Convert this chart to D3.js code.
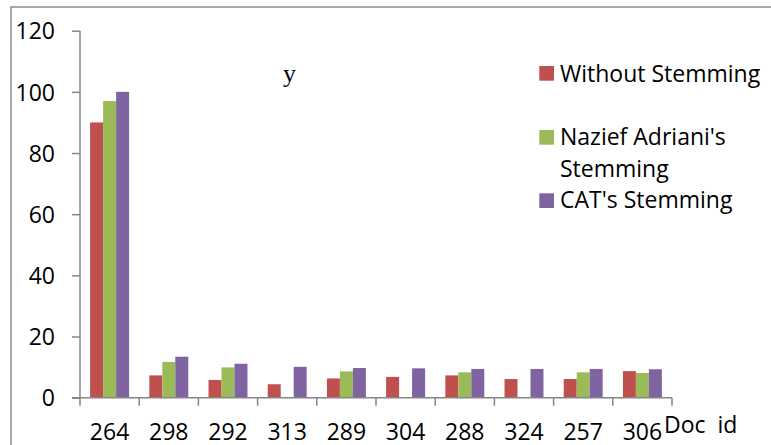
<!DOCTYPE html>
<html>
<head>
<meta charset="utf-8">
<script src="https://cdn.jsdelivr.net/npm/d3@7"></script>
<style>
  html, body { margin: 0; padding: 0; background: #fff; overflow: hidden; }
  text { font-family: "Open Sans", "Noto Sans", sans-serif; fill: #000; }
</style>
</head>
<body>
<script>
var docIds = ["264", "298", "292", "313", "289", "304", "288", "324", "257", "306"];
var seriesNames = ["Without Stemming", "Nazief Adriani's Stemming", "CAT's Stemming"];
var withoutStemming = [90, 7.3, 5.8, 4.4, 6.3, 6.8, 7.3, 6.1, 6.1, 8.7];
var naziefStemming = [97, 11.7, 9.9, 0, 8.6, 0, 8.3, 0, 8.3, 8.1];
var catStemming = [100, 13.4, 11.1, 10.1, 9.7, 9.6, 9.4, 9.4, 9.4, 9.3];
var yTicks = [0, 20, 40, 60, 80, 100, 120];
var colors = ["#C0504D", "#9BBB59", "#8064A2"];

var width = 771, height = 445;
var values = [withoutStemming, naziefStemming, catStemming];

var svg = d3.select("body").append("svg")
    .attr("width", width)
    .attr("height", height);

// outer frame (runs off the right and bottom edges)
svg.append("rect")
    .attr("x", 11).attr("y", 7)
    .attr("width", 800).attr("height", 500)
    .attr("fill", "none")
    .attr("stroke", "#8c8c8c")
    .attr("stroke-width", 1.5);

var x0 = d3.scaleBand().domain(docIds).range([80, 672]);
var x1 = d3.scaleBand().domain(d3.range(3)).range([0, x0.bandwidth()])
    .paddingInner(0).paddingOuter(0.78);
var y = d3.scaleLinear().domain([0, 120]).range([397.7, 30.7]);

// bars
var groups = svg.append("g").selectAll("g")
    .data(docIds)
    .enter().append("g")
    .attr("transform", function (d) { return "translate(" + x0(d) + ",0)"; });

groups.selectAll("rect")
    .data(function (d, i) {
        return values.map(function (s, k) { return { k: k, v: s[i] }; });
    })
    .enter().append("rect")
    .filter(function (d) { return d.v > 0; })
    .attr("x", function (d) { return x1(d.k); })
    .attr("width", x1.bandwidth())
    .attr("y", function (d) { return y(d.v); })
    .attr("height", function (d) { return y(0) - y(d.v); })
    .attr("fill", function (d) { return colors[d.k]; });

// y axis
var yAxis = svg.append("g")
    .attr("transform", "translate(80,0)")
    .call(d3.axisLeft(y).tickValues(yTicks).tickSize(8).tickPadding(17));
yAxis.selectAll("line, path").attr("stroke", "#868686").attr("stroke-width", 1.5);
yAxis.select(".domain").attr("d", "M0," + y(120) + "V" + y(0));
yAxis.selectAll("text")
    .style("font-family", "'Open Sans', sans-serif")
    .style("font-size", "23px")
    .attr("dy", "0.36em");

// x axis with ticks at category boundaries
var xAxis = svg.append("g").attr("transform", "translate(0," + y(0) + ")");
xAxis.append("path")
    .attr("d", "M72,0H672")
    .attr("stroke", "#868686").attr("stroke-width", 1.5);
xAxis.selectAll("line")
    .data(docIds.concat(["end"]))
    .enter().append("line")
    .attr("x1", function (d, i) { return i < docIds.length ? x0(d) : x0.range()[1]; })
    .attr("x2", function (d, i) { return i < docIds.length ? x0(d) : x0.range()[1]; })
    .attr("y1", 0).attr("y2", 8)
    .attr("stroke", "#868686").attr("stroke-width", 1.5);
xAxis.selectAll("text")
    .data(docIds)
    .enter().append("text")
    .attr("x", function (d) { return x0(d) + x0.bandwidth() / 2; })
    .attr("y", 42.5)
    .attr("text-anchor", "middle")
    .style("font-size", "23px")
    .text(function (d) { return d; });

// axis titles
svg.append("text")
    .attr("x", 283).attr("y", 82)
    .style("font-family", "'Liberation Serif', 'Times New Roman', serif")
    .style("font-size", "26px")
    .text("y");

svg.append("text")
    .attr("x", 664).attr("y", 432.5)
    .style("font-size", "23px")
    .style("white-space", "pre")
    .text("Doc  id");

// legend
var legendRows = [
    { k: 0, sq: 66, lines: [["Without Stemming", 81.7]] },
    { k: 1, sq: 130, lines: [["Nazief Adriani's", 145], ["Stemming", 177.3]] },
    { k: 2, sq: 193.3, lines: [["CAT's Stemming", 208.3]] }
];
var legend = svg.append("g");
legendRows.forEach(function (r) {
    legend.append("rect")
        .attr("x", 539.3).attr("y", r.sq)
        .attr("width", 14.7).attr("height", 14.7)
        .attr("fill", colors[r.k]);
    r.lines.forEach(function (l) {
        legend.append("text")
            .attr("x", 560).attr("y", l[1])
            .style("font-size", "23px")
            .text(l[0]);
    });
});
</script>
</body>
</html>
